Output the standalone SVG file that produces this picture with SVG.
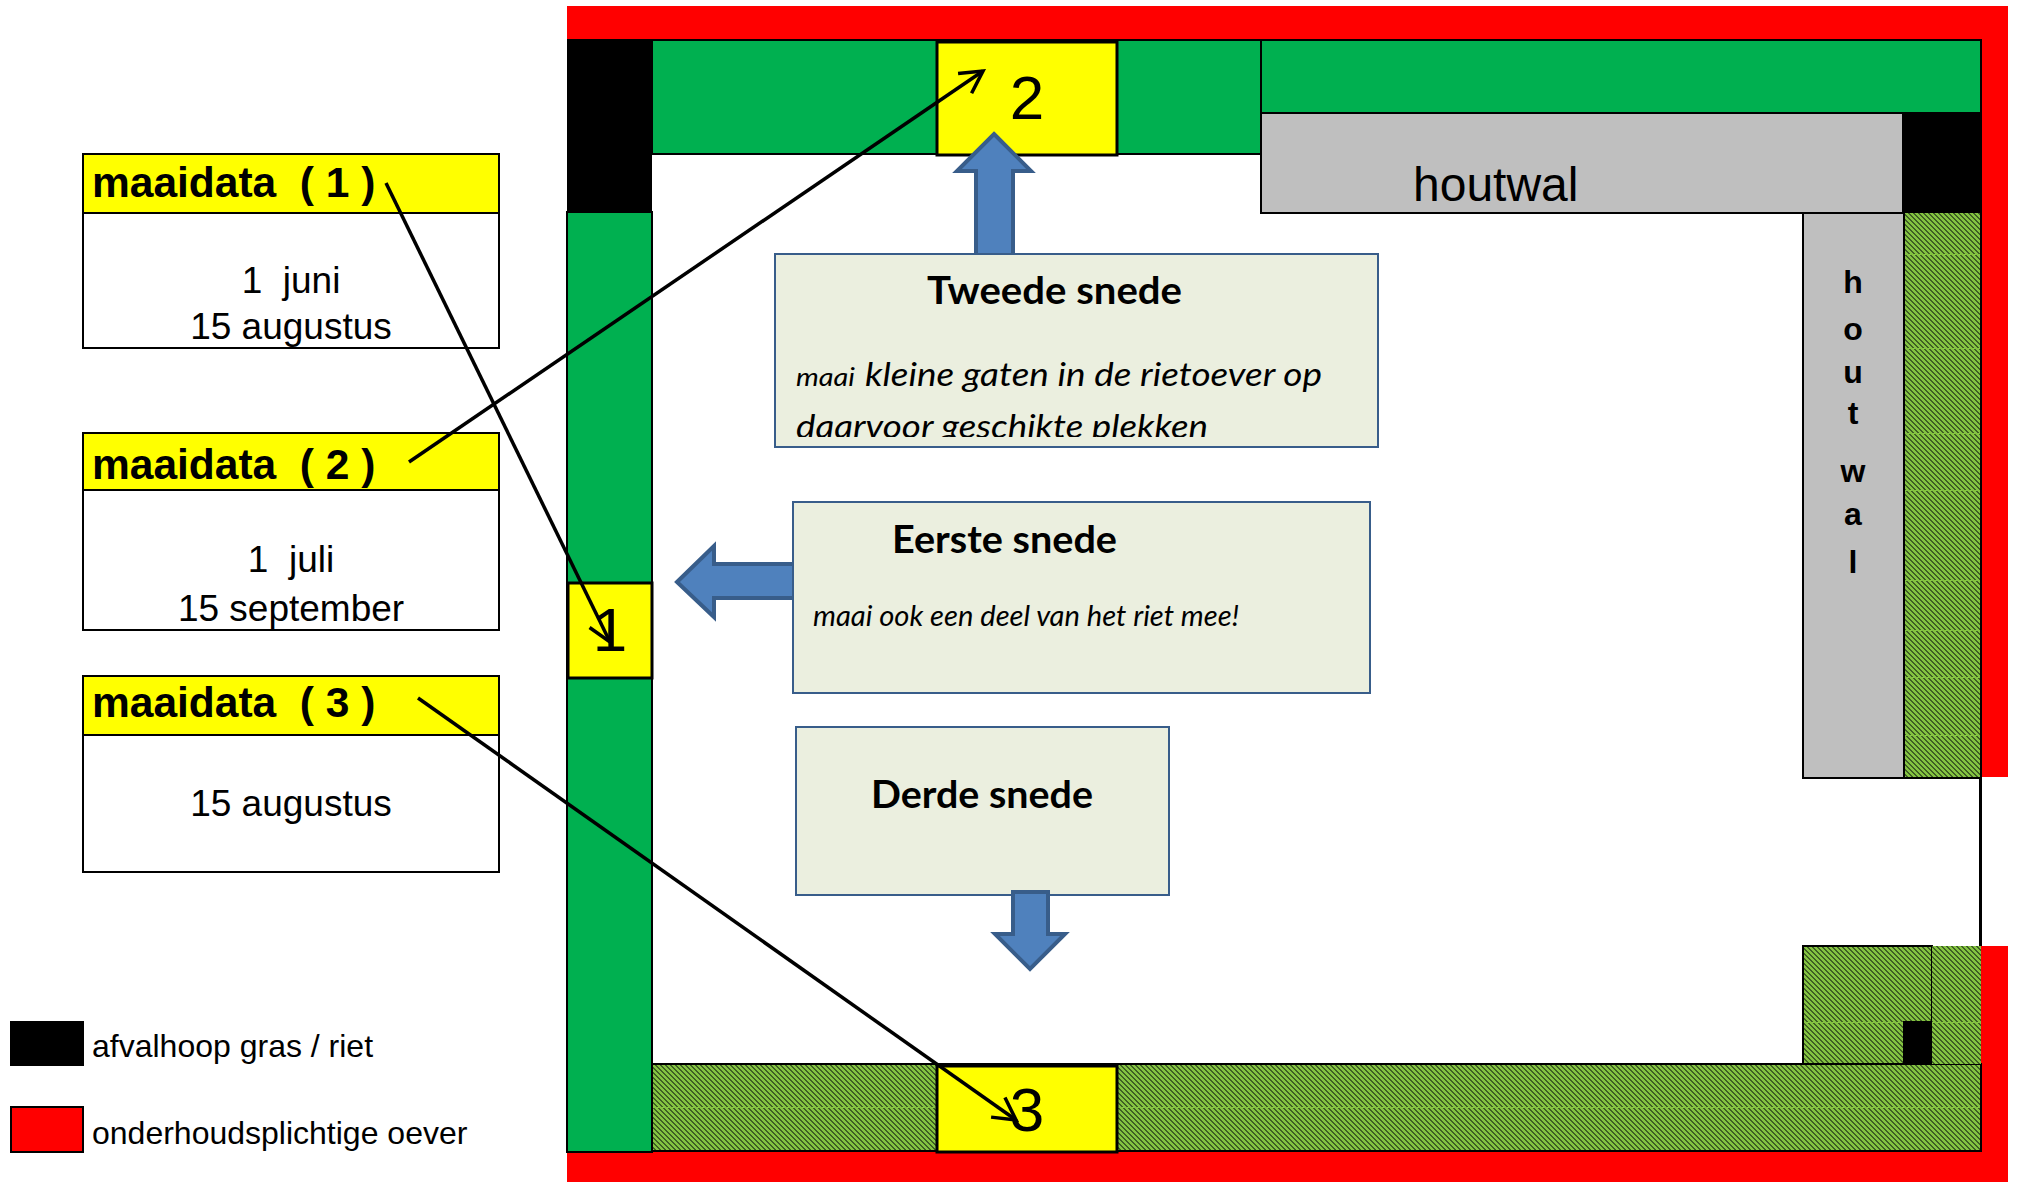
<svg xmlns="http://www.w3.org/2000/svg" width="2018" height="1182" viewBox="0 0 2018 1182">
<style>
.ar{font-family:"Liberation Sans",Arial,sans-serif;fill:#000}
.t{font-size:42.500px;font-weight:bold}
.b{font-size:37px;text-anchor:middle}
.n{font-size:62px;text-anchor:middle}
.v{font-size:32px;font-weight:bold;text-anchor:middle}
.l{font-size:32px}
.c{font-family:Lato,"Open Sans",sans-serif;fill:#000}
.h{font-size:38px;font-weight:bold}
.i{font-style:italic}
.box{fill:#fff;stroke:#000;stroke-width:2}
.ylw{fill:#ff0;stroke:#000;stroke-width:3}
.grn{fill:#00b050;stroke:#000;stroke-width:2}
.gry{fill:#bfbfbf;stroke:#000;stroke-width:2}
.hat{fill:url(#hatch);stroke:#000;stroke-width:2}
.seam{fill:#84c341}
.note{fill:#ebefdf;stroke:#385d8a;stroke-width:2}
.blk{fill:#4f81bd;stroke:#385d8a;stroke-width:4}
.con{fill:none;stroke:#000;stroke-width:3.500;marker-end:url(#open)}
</style>
<defs>
<pattern id="hatch" width="5" height="5" patternUnits="userSpaceOnUse">
<rect width="5" height="5" fill="#84c341"/>
<g fill="#3f5f24" shape-rendering="crispEdges">
<rect x="0" y="0" width="2" height="1"/><rect x="1" y="1" width="2" height="1"/><rect x="2" y="2" width="2" height="1"/>
<rect x="3" y="3" width="2" height="1"/><rect x="4" y="4" width="1" height="1"/><rect x="0" y="4" width="1" height="1"/>
</g>
</pattern>
<marker id="open" markerUnits="userSpaceOnUse" markerWidth="40" markerHeight="40" refX="26" refY="20" orient="auto">
<path d="M4 8L26 20L4 32" fill="none" stroke="#000" stroke-width="3.500"/>
</marker>
<clipPath id="clipT"><rect x="775" y="253" width="603" height="184"/></clipPath>
</defs>
<g id="oever">
<rect x="567" y="6" width="1441" height="33" fill="#f00"/>
<rect x="1981" y="6" width="27" height="771" fill="#f00"/>
<rect x="1981" y="946" width="27" height="236" fill="#f00"/>
<rect x="567" y="1152" width="1441" height="30" fill="#f00"/>
<rect x="1979" y="777" width="3" height="169" fill="#000"/>
</g>
<g id="groen">
<rect class="grn" x="567" y="212" width="85" height="940"/>
<rect class="grn" x="652" y="40" width="609" height="114"/>
<rect class="grn" x="1261" y="40" width="720" height="73"/>
</g>
<g id="riet">
<rect class="hat" x="652" y="1064" width="1329" height="87"/>
<rect class="hat" x="1904" y="212" width="77" height="566"/>
<rect class="hat" x="1803" y="946" width="129" height="118"/>
<rect x="1932" y="946" width="49" height="118" fill="url(#hatch)"/>
<rect class="seam" x="653" y="1107" width="1327" height="1"/>
<rect class="seam" x="1804" y="1022" width="175" height="1"/>
<rect class="seam" x="1905" y="254" width="75" height="1"/>
<rect class="seam" x="1905" y="348" width="75" height="1"/>
<rect class="seam" x="1905" y="433" width="75" height="1"/>
<rect class="seam" x="1905" y="490" width="75" height="1"/>
<rect class="seam" x="1905" y="580" width="75" height="1"/>
<rect class="seam" x="1905" y="630" width="75" height="1"/>
<rect class="seam" x="1905" y="677" width="75" height="1"/>
<rect class="seam" x="1905" y="735" width="75" height="1"/>
</g>
<g id="afval">
<rect x="567" y="39" width="85" height="173" fill="#000"/>
<rect x="1903" y="112" width="79" height="101" fill="#000"/>
<rect x="1903" y="1021" width="29" height="43" fill="#000"/>
</g>
<g id="houtwal-h">
<rect class="gry" x="1261" y="113" width="642" height="100"/>
<text class="ar" x="1413" y="201" font-size="48">houtwal</text>
</g>
<g id="houtwal-v">
<rect class="gry" x="1803" y="213" width="101" height="565"/>
<text class="ar v" x="1853" y="293">h</text>
<text class="ar v" x="1853" y="340">o</text>
<text class="ar v" x="1853" y="383">u</text>
<text class="ar v" x="1853" y="424">t</text>
<text class="ar v" x="1853" y="482">w</text>
<text class="ar v" x="1853" y="525">a</text>
<text class="ar v" x="1853" y="573">l</text>
</g>
<g id="plek2"><rect class="ylw" x="937" y="42" width="180" height="113"/><text class="ar n" x="1027" y="119">2</text></g>
<g id="plek1"><rect class="ylw" x="568" y="583" width="84" height="95"/><text class="ar n" x="610" y="651">1</text></g>
<g id="plek3"><rect class="ylw" x="937" y="1066" width="180" height="86"/><text class="ar n" x="1027" y="1131">3</text></g>
<g id="pijl-tweede"><path class="blk" d="M994 134L1031 171H1013V255H976V171H957Z"/></g>
<g id="pijl-eerste"><path class="blk" d="M677 582L714 546V564H794V598H714V617Z"/></g>
<g id="tweede">
<rect class="note" x="775" y="254" width="603" height="193"/>
<text class="c h" x="927" y="304" textLength="255" lengthAdjust="spacingAndGlyphs">Tweede snede</text>
<g clip-path="url(#clipT)">
<text class="c i" x="796" y="386" font-size="26" textLength="59" lengthAdjust="spacingAndGlyphs">maai</text>
<text class="c i" x="865" y="386" font-size="33" textLength="457" lengthAdjust="spacingAndGlyphs">kleine gaten in de rietoever op</text>
<text class="c i" x="796" y="438" font-size="33" textLength="412" lengthAdjust="spacingAndGlyphs">daarvoor geschikte plekken</text>
</g>
</g>
<g id="eerste">
<rect class="note" x="793" y="502" width="577" height="191"/>
<text class="c h" x="892" y="553" textLength="225" lengthAdjust="spacingAndGlyphs">Eerste snede</text>
<text class="c i" x="813" y="626" font-size="28" textLength="426" lengthAdjust="spacingAndGlyphs">maai ook een deel van het riet mee!</text>
</g>
<g id="derde">
<rect class="note" x="796" y="727" width="373" height="168"/>
<text class="c h" x="871" y="808" textLength="222" lengthAdjust="spacingAndGlyphs">Derde snede</text>
</g>
<g id="pijl-derde"><path class="blk" d="M1013 892H1048V934H1065L1030 969L995 934H1013Z"/></g>
<g id="maaidata1">
<rect class="box" x="83" y="154" width="416" height="194"/>
<rect class="box" x="83" y="154" width="416" height="59" style="fill:#ff0"/>
<text class="ar t" x="92" y="197" xml:space="preserve">maaidata  ( 1 )</text>
<text class="ar b" x="291" y="293" xml:space="preserve">1  juni</text>
<text class="ar b" x="291" y="339">15 augustus</text>
</g>
<g id="maaidata2">
<rect class="box" x="83" y="433" width="416" height="197"/>
<rect class="box" x="83" y="433" width="416" height="57" style="fill:#ff0"/>
<text class="ar t" x="92" y="479" xml:space="preserve">maaidata  ( 2 )</text>
<text class="ar b" x="291" y="572" xml:space="preserve">1  juli</text>
<text class="ar b" x="291" y="621">15 september</text>
</g>
<g id="maaidata3">
<rect class="box" x="83" y="676" width="416" height="196"/>
<rect class="box" x="83" y="676" width="416" height="59" style="fill:#ff0"/>
<text class="ar t" x="92" y="717" xml:space="preserve">maaidata  ( 3 )</text>
<text class="ar b" x="291" y="816">15 augustus</text>
</g>
<g id="legenda">
<rect x="10" y="1021" width="74" height="45" fill="#000"/>
<text class="ar l" x="92" y="1057">afvalhoop gras / riet</text>
<rect x="11" y="1107" width="72" height="45" fill="#f00" stroke="#000" stroke-width="2"/>
<text class="ar l" x="92" y="1144">onderhoudsplichtige oever</text>
</g>
<g id="connectors">
<path class="con" d="M386 183L610 642"/>
<path class="con" d="M409 462L983 71"/>
<path class="con" d="M418 698L1016 1120"/>
</g>
</svg>
